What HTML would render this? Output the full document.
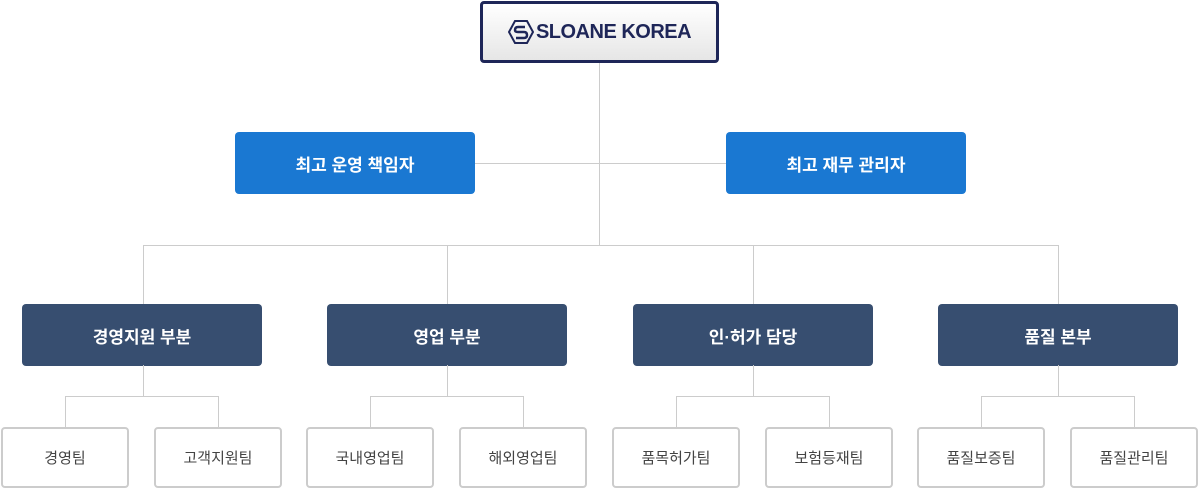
<!DOCTYPE html><html><head><meta charset="utf-8"><style>
body{margin:0;width:1199px;height:488px;background:#fff;position:relative;overflow:hidden;font-family:"Liberation Sans","Noto Sans CJK KR",sans-serif}
.b{position:absolute;box-sizing:border-box;display:flex;align-items:center;justify-content:center;border-radius:4px}
.l{position:absolute;background:#ccc}
.blue{background:#1a78d2;color:#fff;font-size:17px;font-weight:bold;width:240px;height:62px;top:132px}
.dark{background:#374e70;color:#fff;font-size:17px;font-weight:bold;width:240px;height:62px;top:304px}
.leaf{background:#fff;border:2px solid #ccc;color:#444;font-size:15px;width:128px;height:61px;top:427px}
</style></head><body>
<div class="l" style="left:599px;top:62px;width:1px;height:183px"></div>
<div class="l" style="left:474px;top:163px;width:252px;height:1px"></div>
<div class="l" style="left:143px;top:245px;width:916px;height:1px"></div>
<div class="l" style="left:143px;top:245px;width:1px;height:59px"></div>
<div class="l" style="left:447px;top:245px;width:1px;height:59px"></div>
<div class="l" style="left:753px;top:245px;width:1px;height:59px"></div>
<div class="l" style="left:1058px;top:245px;width:1px;height:59px"></div>
<div class="b" style="left:480px;top:1px;width:239px;height:62px;border:3px solid #1e2658;background:linear-gradient(#fff,#e6e6e6);color:#1e2658;font-weight:bold;font-size:20px;letter-spacing:-0.5px">
<svg width="26" height="26" viewBox="0 0 26 26" style="margin-right:2px"><polygon points="7,2 19,2 25,13 19,24 7,24 1,13" fill="none" stroke="#1e2658" stroke-width="2"/><path d="M17 8H10Q7 8 7 11Q7 13 10 13H16Q19 13 19 16Q19 19 16 19H8" fill="none" stroke="#1e2658" stroke-width="2.5"/></svg>SLOANE KOREA</div>
<div class="b blue" style="left:235px">최고 운영 책임자</div>
<div class="b blue" style="left:726px">최고 재무 관리자</div>
<div class="b dark" style="left:22px">경영지원 부분</div>
<div class="b dark" style="left:327px">영업 부분</div>
<div class="b dark" style="left:633px">인·허가 담당</div>
<div class="b dark" style="left:938px">품질 본부</div>
<div class="l" style="left:143px;top:365px;width:1px;height:31px"></div>
<div class="l" style="left:65px;top:396px;width:153px;height:1px"></div>
<div class="l" style="left:65px;top:396px;width:1px;height:31px"></div>
<div class="l" style="left:218px;top:396px;width:1px;height:31px"></div>
<div class="l" style="left:447px;top:365px;width:1px;height:31px"></div>
<div class="l" style="left:370px;top:396px;width:153px;height:1px"></div>
<div class="l" style="left:370px;top:396px;width:1px;height:31px"></div>
<div class="l" style="left:523px;top:396px;width:1px;height:31px"></div>
<div class="l" style="left:753px;top:365px;width:1px;height:31px"></div>
<div class="l" style="left:676px;top:396px;width:153px;height:1px"></div>
<div class="l" style="left:676px;top:396px;width:1px;height:31px"></div>
<div class="l" style="left:829px;top:396px;width:1px;height:31px"></div>
<div class="l" style="left:1058px;top:365px;width:1px;height:31px"></div>
<div class="l" style="left:981px;top:396px;width:153px;height:1px"></div>
<div class="l" style="left:981px;top:396px;width:1px;height:31px"></div>
<div class="l" style="left:1134px;top:396px;width:1px;height:31px"></div>
<div class="b leaf" style="left:1px">경영팀</div>
<div class="b leaf" style="left:154px">고객지원팀</div>
<div class="b leaf" style="left:306px">국내영업팀</div>
<div class="b leaf" style="left:459px">해외영업팀</div>
<div class="b leaf" style="left:612px">품목허가팀</div>
<div class="b leaf" style="left:765px">보험등재팀</div>
<div class="b leaf" style="left:917px">품질보증팀</div>
<div class="b leaf" style="left:1070px">품질관리팀</div>
</body></html>
